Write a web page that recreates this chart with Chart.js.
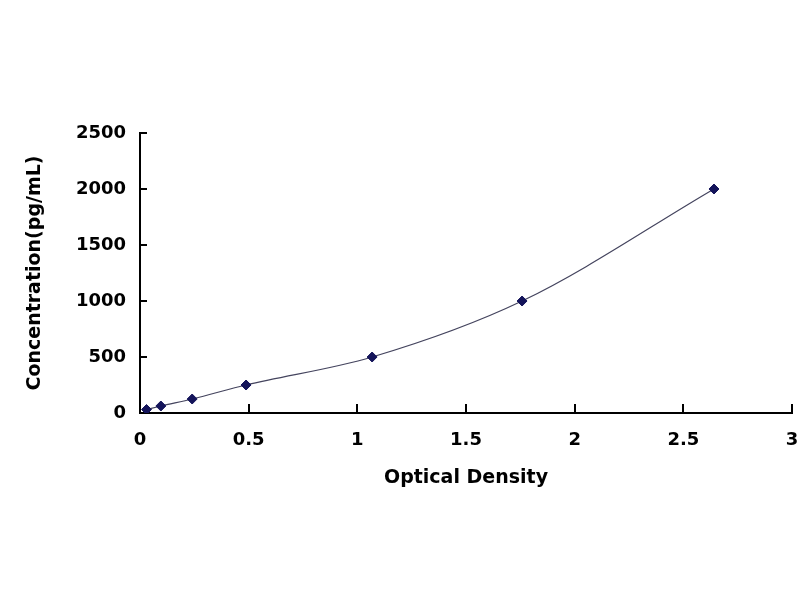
<!DOCTYPE html>
<html>
<head>
<meta charset="utf-8">
<script src="https://cdn.jsdelivr.net/npm/chart.js@4"></script>
<style>
html,body{margin:0;padding:0;background:#fff;}
#wrap{width:800px;height:600px;position:relative;}
</style>
</head>
<body>
<div id="wrap"><canvas id="c" width="800" height="600"></canvas></div>
<script>
const opticalDensity = [0.030, 0.096, 0.240, 0.488, 1.068, 1.758, 2.641];
const concentration = [31.25, 62.5, 125, 250, 500, 1000, 2000];
const xTicks = [0, 0.5, 1, 1.5, 2, 2.5, 3];
const yTicks = [0, 500, 1000, 1500, 2000, 2500];

const points = opticalDensity.map((x, i) => ({x: x, y: concentration[i]}));

const FONT = "'DejaVu Sans', sans-serif";

const inwardTicks = {
  id: 'inwardTicks',
  afterDraw(chart) {
    const ctx = chart.ctx;
    const xs = chart.scales.x, ys = chart.scales.y;
    ctx.save();
    ctx.strokeStyle = '#000';
    ctx.lineWidth = 2;
    ctx.beginPath();
    xTicks.forEach(v => {
      if (v === 0) return;
      const px = Math.round(xs.getPixelForValue(v));
      ctx.moveTo(px, ys.bottom);
      ctx.lineTo(px, ys.bottom - 9);
    });
    yTicks.forEach(v => {
      if (v === 0) return;
      const py = Math.round(ys.getPixelForValue(v));
      ctx.moveTo(xs.left, py);
      ctx.lineTo(xs.left + 7, py);
    });
    ctx.stroke();
    ctx.restore();
  }
};

new Chart(document.getElementById('c'), {
  type: 'scatter',
  data: {
    datasets: [{
      data: points,
      showLine: true,
      cubicInterpolationMode: 'monotone',
      borderColor: '#44445e',
      borderWidth: 1.2,
      pointStyle: 'rectRot',
      pointRadius: 5,
      pointBackgroundColor: '#14145a',
      pointBorderColor: '#14145a',
      pointBorderWidth: 1
    }]
  },
  options: {
    responsive: false,
    animation: false,
    devicePixelRatio: 1,
    layout: {padding: {top: 133, right: 8, left: 0, bottom: 0}},
    plugins: {legend: {display: false}, tooltip: {enabled: false}},
    scales: {
      x: {
        type: 'linear',
        min: 0, max: 3,
        afterFit(s) { s.height = 187; s.paddingRight = 0; s.paddingLeft = 0; },
        afterBuildTicks(s) { s.ticks = xTicks.map(v => ({value: v})); },
        ticks: {
          color: '#000',
          font: {family: FONT, weight: 'bold', size: 18},
          padding: 17,
          callback: v => String(v)
        },
        grid: {display: true, drawOnChartArea: false, drawTicks: false},
        border: {display: true, color: '#000', width: 2},
        title: {
          display: true,
          text: 'Optical Density',
          color: '#000',
          font: {family: FONT, weight: 'bold', size: 19},
          padding: {top: 0, bottom: 111}
        }
      },
      y: {
        type: 'linear',
        min: 0, max: 2500,
        afterFit(s) { s.width = 140; s.paddingTop = 0; s.paddingBottom = 0; },
        afterBuildTicks(s) { s.ticks = yTicks.map(v => ({value: v})); },
        ticks: {
          color: '#000',
          font: {family: FONT, weight: 'bold', size: 18},
          padding: 14,
          callback: v => String(v)
        },
        grid: {display: true, drawOnChartArea: false, drawTicks: false},
        border: {display: true, color: '#000', width: 2},
        title: {
          display: true,
          text: 'Concentration(pg/mL)',
          color: '#000',
          font: {family: FONT, weight: 'bold', size: 19},
          padding: {top: 24, bottom: 0}
        }
      }
    }
  },
  plugins: [inwardTicks]
});
</script>
</body>
</html>
